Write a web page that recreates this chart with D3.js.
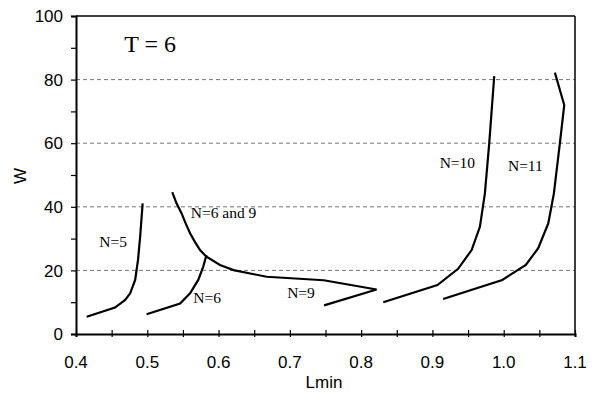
<!DOCTYPE html>
<html><head><meta charset="utf-8">
<script src="https://cdn.jsdelivr.net/npm/d3@7"></script>
<style>body{margin:0;background:#fff}</style>
</head><body>
<svg id="c" width="597" height="394"></svg>
<script>
const xTicks = [0.4,0.5,0.6,0.7,0.8,0.9,1.0,1.1];
const yTicks = [0,20,40,60,80,100];
const gridLines = [20,40,60,80];

const n5L = [0.415,0.4547,0.469,0.476,0.483,0.487,0.490,0.4935];
const n5W = [5.4,8.3,10.7,12.8,17,23.3,30.6,41.1];

const n6L = [0.499,0.546,0.560,0.5715,0.5785,0.583];
const n6W = [6.2,9.6,12.8,17,21.2,24.8];

const n69L = [0.535,0.541,0.548,0.554,0.560,0.567,0.574,0.583,0.602,0.621,0.6495,0.6675,0.7475,0.8217,0.748];
const n69W = [44.6,41.1,38,34.7,31.7,28.9,26.4,24.3,21.7,20.1,18.8,18.0,16.9,14.0,9.0];

const n10L = [0.831,0.907,0.936,0.955,0.9666,0.9736,0.9797,0.9867];
const n10W = [10,15.4,20.5,26.4,33.7,44.2,60,81.1];

const n11L = [0.915,0.998,1.031,1.0484,1.0625,1.0704,1.0788,1.0849,1.0718];
const n11W = [11,17,21.7,27,34.8,44.2,60,72,82.2];

const labels = ["T = 6","N=5","N=6 and 9","N=6","N=9","N=10","N=11"];
const labelL = [0.504,0.452,0.607,0.584,0.7156,0.935,1.0304];
const labelW = [88.7,27.4,36.5,9.7,11.3,52.2,51.3];

const svg = d3.select("#c");
const m = {l:76, r:575, t:16, b:334};
const x = d3.scaleLinear().domain([0.4,1.1]).range([m.l,m.r]);
const y = d3.scaleLinear().domain([0,100]).range([m.b,m.t]);

// grid
svg.selectAll("line.grid").data(gridLines).enter().append("line")
  .attr("x1",m.l).attr("x2",m.r).attr("y1",d=>y(d)).attr("y2",d=>y(d))
  .attr("stroke","#777").attr("stroke-width",1).attr("stroke-dasharray","4,3");

// frame top/right
svg.append("line").attr("x1",m.l).attr("x2",m.r).attr("y1",m.t).attr("y2",m.t).attr("stroke","#000").attr("stroke-width",1.5);
svg.append("line").attr("x1",m.r).attr("x2",m.r).attr("y1",m.t).attr("y2",m.b).attr("stroke","#000").attr("stroke-width",1.5);

// x axis
const xa = svg.append("g").attr("transform",`translate(0,${m.b})`)
  .call(d3.axisBottom(x).tickValues(d3.range(0.4,1.1001,0.05)).tickSize(3).tickFormat(""));
xa.select(".domain").attr("stroke-width",2);
xa.selectAll(".tick line").attr("y1",-4).attr("stroke-width",1.2);
svg.append("g").selectAll("text").data(xTicks).enter().append("text")
  .attr("x",d=>x(d)).attr("y",m.b+34).attr("text-anchor","middle")
  .attr("font-family","Liberation Sans, Arial, sans-serif").attr("font-size",17)
  .text(d=>d.toFixed(1));

// y axis
const ya = svg.append("g").attr("transform",`translate(${m.l},0)`)
  .call(d3.axisLeft(y).tickValues(d3.range(0,101,10)).tickSize(5).tickFormat(""));
ya.select(".domain").attr("stroke-width",2);
ya.selectAll(".tick line").attr("stroke-width",1.2);
svg.append("g").selectAll("text").data(yTicks).enter().append("text")
  .attr("x",m.l-13).attr("y",d=>y(d)).attr("dy","0.36em").attr("text-anchor","end")
  .attr("font-family","Liberation Sans, Arial, sans-serif").attr("font-size",17)
  .text(d=>d);

svg.append("text").attr("transform","translate(26,176) rotate(-90)").attr("text-anchor","middle")
  .attr("font-family","Liberation Sans, Arial, sans-serif").attr("font-size",17).text("W");
svg.append("text").attr("x",324).attr("y",388).attr("text-anchor","middle")
  .attr("font-family","Liberation Sans, Arial, sans-serif").attr("font-size",17).text("Lmin");

// curves
const line = d3.line().x(d=>x(d[0])).y(d=>y(d[1]));
const series = [[n5L,n5W],[n6L,n6W],[n69L,n69W],[n10L,n10W],[n11L,n11W]];
series.forEach(([L,W])=>{
  svg.append("path").datum(L.map((v,i)=>[v,W[i]])).attr("d",line)
    .attr("fill","none").attr("stroke","#000").attr("stroke-width",2.2).attr("stroke-linejoin","miter");
});

// labels
labels.forEach((t,i)=>{
  svg.append("text").attr("x",x(labelL[i])).attr("y",y(labelW[i])).attr("text-anchor","middle")
    .attr("font-family","Liberation Serif, Times New Roman, serif").attr("font-size",i===0?24:15.5)
    .text(t);
});
</script>
</body></html>
